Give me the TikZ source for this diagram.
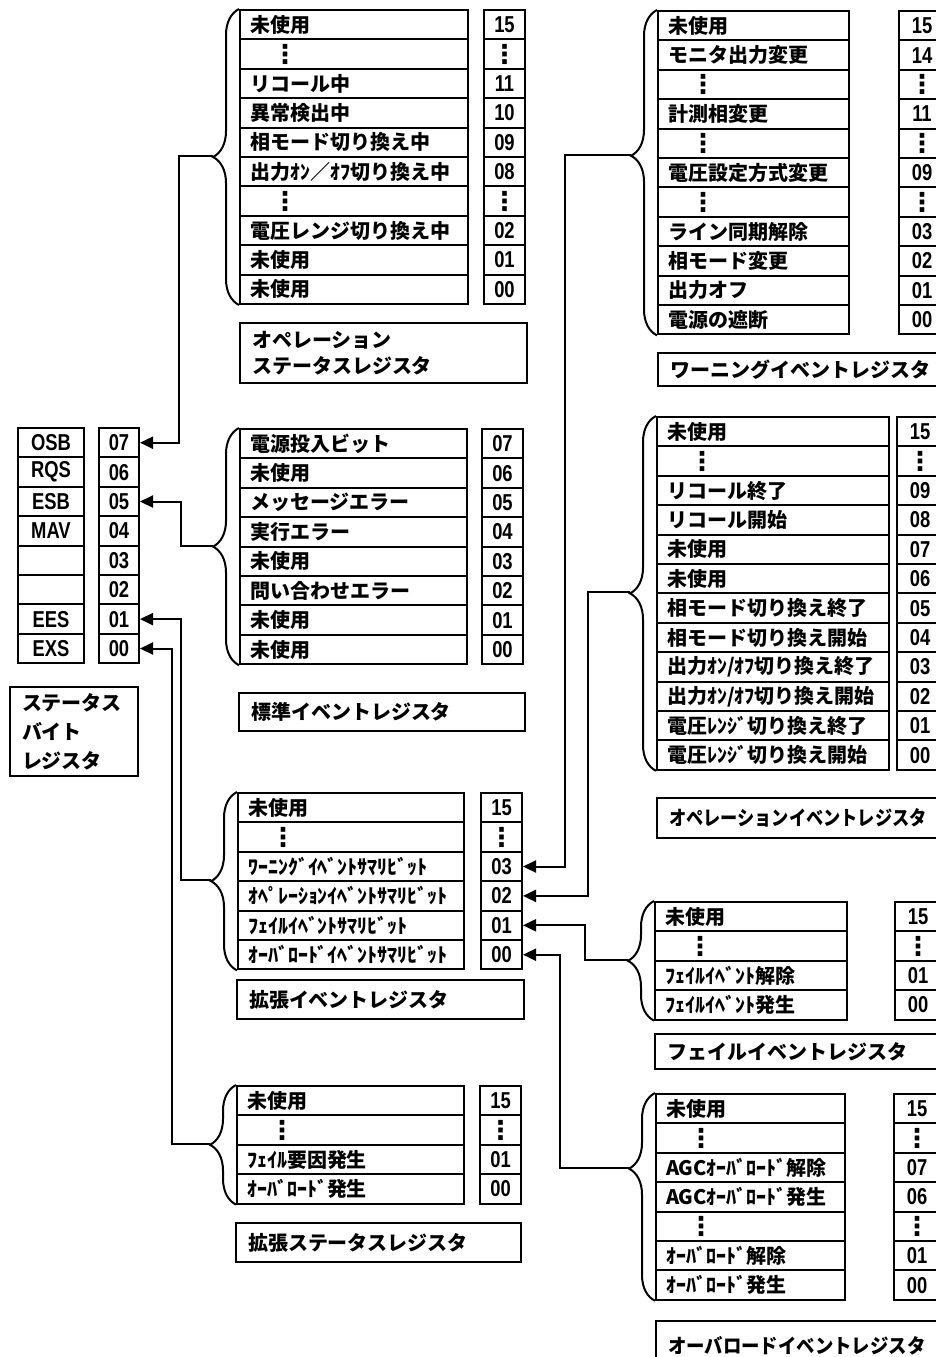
\documentclass[tikz,border=0pt]{standalone}
\usepackage{fontspec}
\setmainfont{Noto Sans CJK JP}
\newfontfamily\numfnt{Liberation Sans}[FakeStretch=0.8]
\newfontfamily\symfnt{DejaVu Sans}
\usetikzlibrary{arrows.meta,decorations.pathreplacing}

\newcommand{\numdots}{{\symfnt\fontsize{13}{13}\selectfont ⋮}}
\newcommand{\rowdots}{\hspace*{11pt}\numdots}

\tikzset{
  rowbox/.style={draw,line width=1pt,anchor=north west,minimum height=14.7pt,
    inner xsep=5pt,inner ysep=0pt,text width=#1,align=left,
    font=\bfseries\fontsize{10}{10}\selectfont},
  numbox/.style={draw,line width=1pt,anchor=north west,minimum width=#1,
    minimum height=14.7pt,inner sep=0pt,
    font=\numfnt\bfseries\fontsize{11.5}{11.5}\selectfont},
  numbox/.default=20.5pt,
  namebox/.style={draw,line width=1pt,anchor=north west,inner xsep=6pt,
    inner ysep=0pt,text width=#1,align=left,
    font=\bfseries\fontsize{10}{13}\selectfont},
  regbrace/.style={decorate,decoration={brace,amplitude=13pt,aspect=#1},line width=1pt},
  link/.style={line width=1pt,-{Triangle[length=6.5pt,width=6pt]}},
}

\begin{document}
\begin{tikzpicture}[x=0.5pt,y=-0.5pt]
 \fill[white] (0,0) rectangle (936,1357);
 \useasboundingbox (0,0) rectangle (936,1357);

 % status byte register
 \foreach \t/\n [count=\i from 0] in {OSB/07,RQS/06,ESB/05,MAV/04,{}/03,{}/02,EES/01,EXS/00} {
  \node[numbox=33pt] (sbn-\i) at (17,{427+29.4*\i}) {\t};
  \node[numbox=20pt] (sb-\i) at (98,{427+29.4*\i}) {\n};
 }
 \node[namebox=52pt,minimum height=44.5pt,font=\bfseries\fontsize{10}{14.5}\selectfont]
   (sb-lbl) at (9,686) {ステータス\\バイト\\レジスタ};

 % operation status register
 \foreach \t/\n [count=\i from 0] in {未使用/15,\rowdots/\numdots,リコール中/11,異常検出中/10,
   相モード切り換え中/09,出力ｵﾝ／ｵﾌ切り換え中/08,\rowdots/\numdots,電圧レンジ切り換え中/02,
   未使用/01,未使用/00} {
  \node[rowbox=104pt] (os-\i) at (239,{9+29.4*\i}) {\t};
  \node[numbox] (osn-\i) at (483,{9+29.4*\i}) {\n};
 }
 \draw[regbrace=.5] (os-9.south west) -- (os-0.north west);
 \coordinate (os-tip) at (213,156);
 \node[namebox=131.5pt,minimum height=30pt] (os-lbl) at (239,322) {オペレーション\\ステータスレジスタ};

 % standard event register
 \foreach \t/\n [count=\i from 0] in {電源投入ビット/07,未使用/06,メッセージエラー/05,実行エラー/04,
   未使用/03,問い合わせエラー/02,未使用/01,未使用/00} {
  \node[rowbox=103.5pt] (se-\i) at (239,{428+29.4*\i}) {\t};
  \node[numbox] (sen-\i) at (481,{428+29.4*\i}) {\n};
 }
 \draw[regbrace=.5] (se-7.south west) -- (se-0.north west);
 \coordinate (se-tip) at (213,545.6);
 \node[namebox=131pt,minimum height=19pt] (se-lbl) at (238,692) {標準イベントレジスタ};

 % extended event register
 \foreach \t/\n [count=\i from 0] in {未使用/15,\rowdots/\numdots,ﾜｰﾆﾝｸﾞｲﾍﾞﾝﾄｻﾏﾘﾋﾞｯﾄ/03,
   ｵﾍﾟﾚｰｼｮﾝｲﾍﾞﾝﾄｻﾏﾘﾋﾞｯﾄ/02,ﾌｪｲﾙｲﾍﾞﾝﾄｻﾏﾘﾋﾞｯﾄ/01,ｵｰﾊﾞﾛｰﾄﾞｲﾍﾞﾝﾄｻﾏﾘﾋﾞｯﾄ/00} {
  \node[rowbox=103pt] (xe-\i) at (237,{792+29.4*\i}) {\t};
  \node[numbox] (ee-\i) at (480,{792+29.4*\i}) {\n};
 }
 \draw[regbrace=.5] (xe-5.south west) -- (xe-0.north west);
 \coordinate (xe-tip) at (211,880.2);
 \node[namebox=131.5pt,minimum height=19.5pt] (xe-lbl) at (236,979) {拡張イベントレジスタ};

 % extended status register
 \foreach \t/\n [count=\i from 0] in {未使用/15,\rowdots/\numdots,ﾌｪｲﾙ要因発生/01,ｵｰﾊﾞﾛｰﾄﾞ発生/00} {
  \node[rowbox=103.5pt] (xs-\i) at (236,{1085+29.4*\i}) {\t};
  \node[numbox] (xsn-\i) at (479,{1085+29.4*\i}) {\n};
 }
 \draw[regbrace=.5] (xs-3.south west) -- (xs-0.north west);
 \coordinate (xs-tip) at (210,1143.8);
 \node[namebox=130.5pt,minimum height=19.5pt] (xs-lbl) at (235,1222) {拡張ステータスレジスタ};

 % warning event register
 \foreach \t/\n [count=\i from 0] in {未使用/15,モニタ出力変更/14,\rowdots/\numdots,計測相変更/11,
   \rowdots/\numdots,電圧設定方式変更/09,\rowdots/\numdots,ライン同期解除/03,相モード変更/02,
   出力オフ/01,電源の遮断/00} {
  \node[rowbox=85.5pt] (wn-\i) at (657,{10+29.4*\i}) {\t};
  \node[numbox=23pt] (wnn-\i) at (898,{10+29.4*\i}) {\n};
 }
 \draw[regbrace=.552] (wn-10.south west) -- (wn-0.north west);
 \coordinate (wn-tip) at (631,154.9);
 \node[namebox=129.5pt,minimum height=16.5pt] (wn-lbl) at (657,352) {ワーニングイベントレジスタ};

 % operation event register
 \foreach \t/\n [count=\i from 0] in {未使用/15,\rowdots/\numdots,リコール終了/09,リコール開始/08,
   未使用/07,未使用/06,相モード切り換え終了/05,相モード切り換え開始/04,
   出力ｵﾝ\slash ｵﾌ切り換え終了/03,出力ｵﾝ\slash ｵﾌ切り換え開始/02,
   電圧ﾚﾝｼﾞ切り換え終了/01,電圧ﾚﾝｼﾞ切り換え開始/00} {
  \node[rowbox=106pt] (oe-\i) at (656,{416+29.4*\i}) {\t};
  \node[numbox=23pt] (oen-\i) at (896,{416+29.4*\i}) {\n};
 }
 \draw[regbrace=.5] (oe-11.south west) -- (oe-0.north west);
 \coordinate (oe-tip) at (630,592.4);
 \node[namebox=130pt,minimum height=20pt] (oe-lbl) at (656,797)
   {\scalebox{.86}[1]{オペレーションイベントレジスタ}};

 % fail event register
 \foreach \t/\n [count=\i from 0] in {未使用/15,\rowdots/\numdots,ﾌｪｲﾙｲﾍﾞﾝﾄ解除/01,ﾌｪｲﾙｲﾍﾞﾝﾄ発生/00} {
  \node[rowbox=86pt] (fl-\i) at (654,{901+29.4*\i}) {\t};
  \node[numbox=23pt] (fln-\i) at (894,{901+29.4*\i}) {\n};
 }
 \draw[regbrace=.5] (fl-3.south west) -- (fl-0.north west);
 \coordinate (fl-tip) at (628,959.8);
 \node[namebox=131pt,minimum height=17.5pt] (fl-lbl) at (654,1033) {フェイルイベントレジスタ};

 % overload event register
 \foreach \t/\n [count=\i from 0] in {未使用/15,\rowdots/\numdots,AGCｵｰﾊﾞﾛｰﾄﾞ解除/07,AGCｵｰﾊﾞﾛｰﾄﾞ発生/06,
   \rowdots/\numdots,ｵｰﾊﾞﾛｰﾄﾞ解除/01,ｵｰﾊﾞﾛｰﾄﾞ発生/00} {
  \node[rowbox=84.5pt] (ol-\i) at (655,{1093+29.4*\i}) {\t};
  \node[numbox=23pt] (oln-\i) at (893,{1093+29.4*\i}) {\n};
 }
 \draw[regbrace=.636] (ol-6.south west) -- (ol-0.north west);
 \coordinate (ol-tip) at (629,1167.9);
 \node[namebox=130.5pt,minimum height=25pt] (ol-lbl) at (655,1320)
   {\scalebox{.92}[1]{オーバロードイベントレジスタ}};

 % summary links
 \draw[link] (os-tip) -- ++(-34,0) |- (sb-0.east);
 \draw[link] (se-tip) -- ++(-32,0) |- (sb-2.east);
 \draw[link] (xe-tip) -- ++(-30,0) |- (sb-6.east);
 \draw[link] (xs-tip) -- ++(-38,0) |- (sb-7.east);
 \draw[link] (wn-tip) -- ++(-66,0) |- (ee-2.east);
 \draw[link] (oe-tip) -- ++(-42,0) |- (ee-3.east);
 \draw[link] (fl-tip) -- ++(-43,0) |- (ee-4.east);
 \draw[link] (ol-tip) -- ++(-69,0) |- (ee-5.east);
\end{tikzpicture}
\end{document}
